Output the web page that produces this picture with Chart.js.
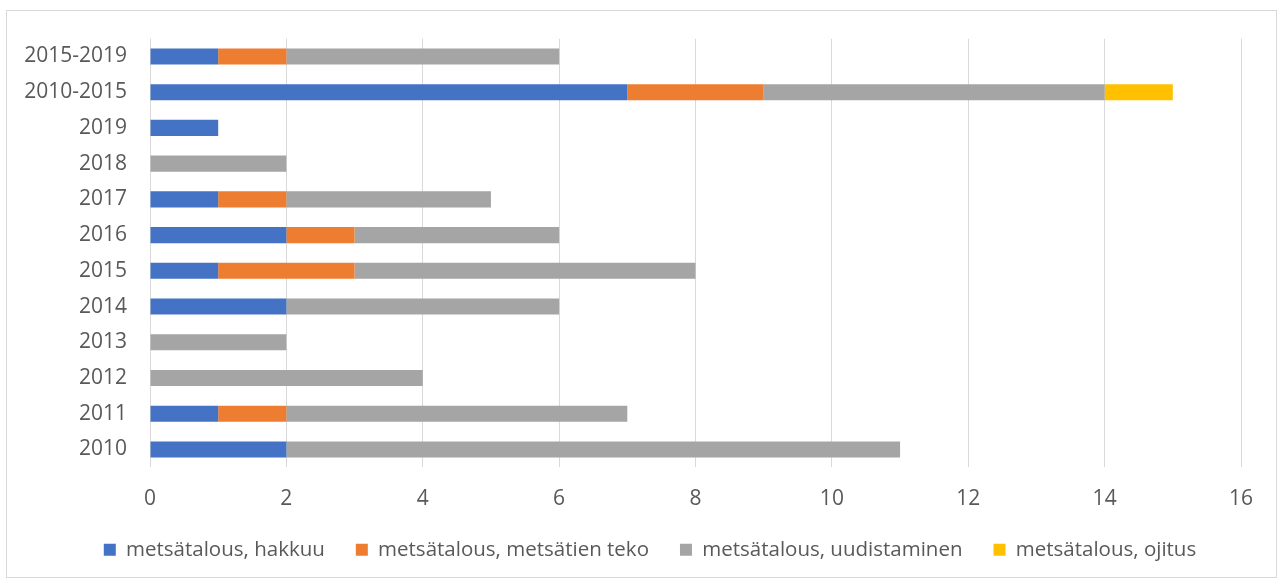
<!DOCTYPE html>
<html>
<head>
<meta charset="utf-8">
<script src="https://cdn.jsdelivr.net/npm/chart.js@4"></script>
<style>
  body { margin: 0; background: #fff; }
  #wrap {
    position: absolute; left: 6px; top: 10px;
    width: 1269px; height: 566px;
    border: 1px solid #d9d9d9; background: #fff;
  }
</style>
</head>
<body>
<div id="wrap"><canvas id="chart"></canvas></div>
<script>
// categories, top to bottom
const categories = ['2015-2019', '2010-2015', '2019', '2018', '2017', '2016', '2015', '2014', '2013', '2012', '2011', '2010'];

// values per series
const hakkuu       = [1, 7, 1, 0, 1, 2, 1, 2, 0, 0, 1, 2];
const metsatieTeko = [1, 2, 0, 0, 1, 1, 2, 0, 0, 0, 1, 0];
const uudistaminen = [4, 5, 0, 2, 3, 3, 5, 4, 2, 4, 5, 9];
const ojitus       = [0, 1, 0, 0, 0, 0, 0, 0, 0, 0, 0, 0];

const seriesNames = ['metsätalous, hakkuu', 'metsätalous, metsätien teko', 'metsätalous, uudistaminen', 'metsätalous, ojitus'];
const xTicks = [0, 2, 4, 6, 8, 10, 12, 14, 16];

const textColor = '#595959';
const font = { family: 'Open Sans', size: 21 };
const legendFont = { family: 'Open Sans', size: 20.5 };

// legend padding is wide between items but too tall above them,
// so take some height back and draw the items that much higher
// (and a little to the right, centred like the original)
const LEGEND_SHIFT = 22;
const LEGEND_DX = 26;
const legendShift = {
    id: 'legendShift',
    afterInit(chart) {
        const legend = chart.legend;
        if (!legend) return;
        const fit = legend.fit;
        legend.fit = function () {
            fit.call(this);
            this.height -= LEGEND_SHIFT;
        };
        const draw = legend.draw;
        legend.draw = function () {
            this.top -= LEGEND_SHIFT;
            this.left += LEGEND_DX;
            this.right += LEGEND_DX;
            draw.call(this);
            this.top += LEGEND_SHIFT;
            this.left -= LEGEND_DX;
            this.right -= LEGEND_DX;
        };
    }
};

function ds(label, data, color) {
    return {
        label: label,
        data: data,
        backgroundColor: color,
        borderWidth: 0,
        categoryPercentage: 1,
        barPercentage: 0.45
    };
}

const config = {
    type: 'bar',
    data: {
        labels: categories,
        datasets: [
            ds(seriesNames[0], hakkuu, '#4472C4'),
            ds(seriesNames[1], metsatieTeko, '#ED7D31'),
            ds(seriesNames[2], uudistaminen, '#A5A5A5'),
            ds(seriesNames[3], ojitus, '#FFC000')
        ]
    },
    options: {
        indexAxis: 'y',
        responsive: true,
        maintainAspectRatio: false,
        animation: false,
        layout: { padding: { top: 24, right: 35, bottom: 7, left: 0 } },
        scales: {
            x: {
                stacked: true,
                min: xTicks[0],
                max: xTicks[xTicks.length - 1],
                afterBuildTicks: (scale) => { scale.ticks = xTicks.map(v => ({ value: v })); },
                grid: { color: '#d9d9d9', lineWidth: 1, drawTicks: false },
                border: { display: false },
                ticks: { color: textColor, font: font, padding: 19 }
            },
            y: {
                stacked: true,
                grid: { display: false },
                border: { display: false },
                ticks: { color: textColor, font: font, padding: 15 },
                afterFit: (scale) => { scale.width = 143; }
            }
        },
        plugins: {
            tooltip: { enabled: false },
            legend: {
                position: 'bottom',
                labels: {
                    color: textColor,
                    font: legendFont,
                    boxWidth: 12,
                    boxHeight: 12,
                    padding: 31
                }
            }
        }
    },
    plugins: [legendShift]
};

const chart = new Chart(document.getElementById('chart'), config);
</script>
</body>
</html>
